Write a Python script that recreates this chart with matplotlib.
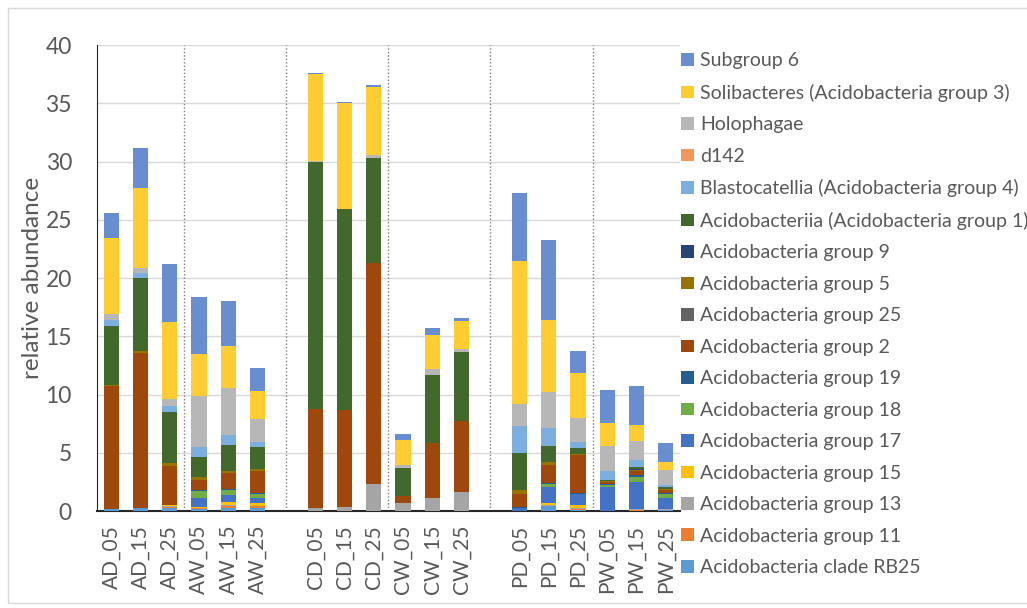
import matplotlib.pyplot as plt
import numpy as np
from matplotlib.patches import Rectangle

plt.rcParams['font.family'] = ['Lato', 'DejaVu Sans']

samples = ["AD_05", "AD_15", "AD_25", "AW_05", "AW_15", "AW_25",
           "CD_05", "CD_15", "CD_25", "CW_05", "CW_15", "CW_25",
           "PD_05", "PD_15", "PD_25", "PW_05", "PW_15", "PW_25"]

# stacking order, bottom to top
taxa = ["Acidobacteria clade RB25", "Acidobacteria group 11", "Acidobacteria group 13",
        "Acidobacteria group 15", "Acidobacteria group 17", "Acidobacteria group 18",
        "Acidobacteria group 19", "Acidobacteria group 2", "Acidobacteria group 25",
        "Acidobacteria group 5", "Acidobacteria group 9",
        "Acidobacteriia (Acidobacteria group 1)", "Blastocatellia (Acidobacteria group 4)",
        "d142", "Holophagae", "Solibacteres (Acidobacteria group 3)", "Subgroup 6"]

colors = ["#5B9BD5", "#ED7D31", "#A5A5A5", "#FFC000", "#4472C4", "#70AD47",
          "#255E91", "#9E480E", "#636363", "#997300", "#264478",
          "#43682B", "#7CAFDD", "#F1975A", "#B7B7B7", "#FFCD33", "#698ED0"]

rb25   = [0.15, 0.30, 0.25, 0.15, 0.30, 0.25, 0, 0, 0, 0, 0, 0, 0, 0.40, 0.10, 0, 0, 0.05]
grp11  = [0, 0, 0.10, 0.10, 0.15, 0.15, 0, 0, 0, 0, 0, 0, 0, 0.05, 0.10, 0, 0.10, 0.05]
grp13  = [0, 0, 0.10, 0.05, 0.05, 0.06, 0.25, 0.35, 2.30, 0.65, 1.10, 1.60, 0, 0.05, 0.10, 0, 0.05, 0.05]
grp15  = [0, 0, 0.05, 0.05, 0.25, 0.20, 0, 0, 0, 0, 0, 0, 0, 0.20, 0.20, 0, 0.05, 0]
grp17  = [0, 0, 0, 0.80, 0.65, 0.50, 0, 0, 0, 0, 0, 0, 0.30, 1.40, 0.95, 2.05, 2.30, 0.95]
grp18  = [0, 0, 0, 0.60, 0.40, 0.33, 0, 0, 0, 0, 0, 0, 0, 0.25, 0.05, 0.20, 0.45, 0.40]
grp19  = [0, 0, 0, 0.05, 0.05, 0.05, 0, 0, 0, 0, 0, 0, 0.05, 0.05, 0.05, 0.05, 0.10, 0.05]
grp2   = [10.55, 13.30, 3.40, 0.85, 1.45, 1.90, 8.55, 8.35, 19.00, 0.65, 4.75, 6.15, 1.15, 1.55, 3.30, 0.15, 0.35, 0.25]
grp25  = [0] * 18
grp5   = [0.10, 0.10, 0.20, 0.30, 0.15, 0.15, 0, 0, 0, 0, 0, 0, 0.30, 0.30, 0.05, 0.15, 0.10, 0.05]
grp9   = [0, 0, 0, 0, 0, 0, 0, 0, 0, 0, 0, 0, 0, 0, 0, 0, 0.10, 0]
acido  = [5.10, 6.30, 4.40, 1.70, 2.25, 1.90, 21.20, 17.20, 9.00, 2.37, 5.85, 5.90, 3.15, 1.35, 0.50, 0.05, 0.20, 0.20]
blasto = [0.50, 0.45, 0.50, 0.85, 0.80, 0.40, 0, 0, 0, 0, 0, 0, 2.35, 1.50, 0.50, 0.75, 0.55, 0.20]
d142   = [0] * 18
holo   = [0.50, 0.45, 0.65, 4.40, 4.10, 2.00, 0.05, 0.05, 0.25, 0.30, 0.50, 0.30, 1.90, 3.15, 2.10, 2.20, 1.70, 1.30]
soli   = [6.50, 6.80, 6.55, 3.60, 3.55, 2.40, 7.50, 9.10, 5.85, 2.15, 2.95, 2.35, 12.30, 6.15, 3.85, 1.95, 1.30, 0.65]
sub6   = [2.20, 3.50, 5.00, 4.90, 3.85, 2.00, 0.05, 0.05, 0.20, 0.50, 0.60, 0.30, 5.80, 6.90, 1.90, 2.80, 3.40, 1.65]

series = [rb25, grp11, grp13, grp15, grp17, grp18, grp19, grp2, grp25, grp5, grp9,
          acido, blasto, d142, holo, soli, sub6]

fig = plt.figure(figsize=(10.27, 6.08), dpi=100)
ax = fig.add_axes([0.0944, 0.1595, 0.5677, 0.7664])

# one empty slot between the three site groups
x = np.array([i + i // 6 for i in range(len(samples))])

bottom = np.zeros(len(samples))
handles = []
for name, vals, c in zip(taxa, series, colors):
    b = ax.bar(x, vals, 0.52, bottom=bottom, color=c, label=name, zorder=3)
    bottom += np.array(vals)
    handles.append(b)

for sep in [2.5, 6, 9.5, 13, 16.5]:
    ax.axvline(sep, ymin=0, ymax=1, color="#7F7F7F", linestyle=(0, (1, 1.5)),
               linewidth=1.0, zorder=2)

ax.set_xlim(-0.5, 19.5)
ax.set_ylim(0, 40)
ax.set_yticks(np.arange(0, 41, 5))
ax.yaxis.grid(True, color="#D9D9D9", linewidth=1.0, zorder=0)
ax.set_axisbelow(True)
ax.set_xticks(x)
ax.set_xticklabels(samples, rotation=90, fontsize=15, color="#595959")
ax.tick_params(axis="y", labelsize=16.5, labelcolor="#595959", length=0, pad=18)
ax.tick_params(axis="x", length=0, pad=10)
ax.set_ylabel("relative abundance", fontsize=17.5, color="#595959", labelpad=2)

for s in ["top", "right"]:
    ax.spines[s].set_visible(False)
ax.spines["left"].set_color("#262626")
ax.spines["bottom"].set_color("#262626")
ax.spines["bottom"].set_linewidth(1.5)

ax.legend(handles[::-1], taxa[::-1], loc="upper left", bbox_to_anchor=(0.656, 0.927),
          bbox_transform=fig.transFigure, frameon=False, fontsize=14,
          handlelength=0.62, handleheight=0.62, handletextpad=0.35,
          labelspacing=0.745, labelcolor="#595959", borderaxespad=0)

fig.patches.append(Rectangle((8 / 1027, 5 / 608), 1.1, 595 / 608, transform=fig.transFigure,
                             fill=False, edgecolor="#D9D9D9", linewidth=1.0))

fig.savefig("out.png", dpi=100)
